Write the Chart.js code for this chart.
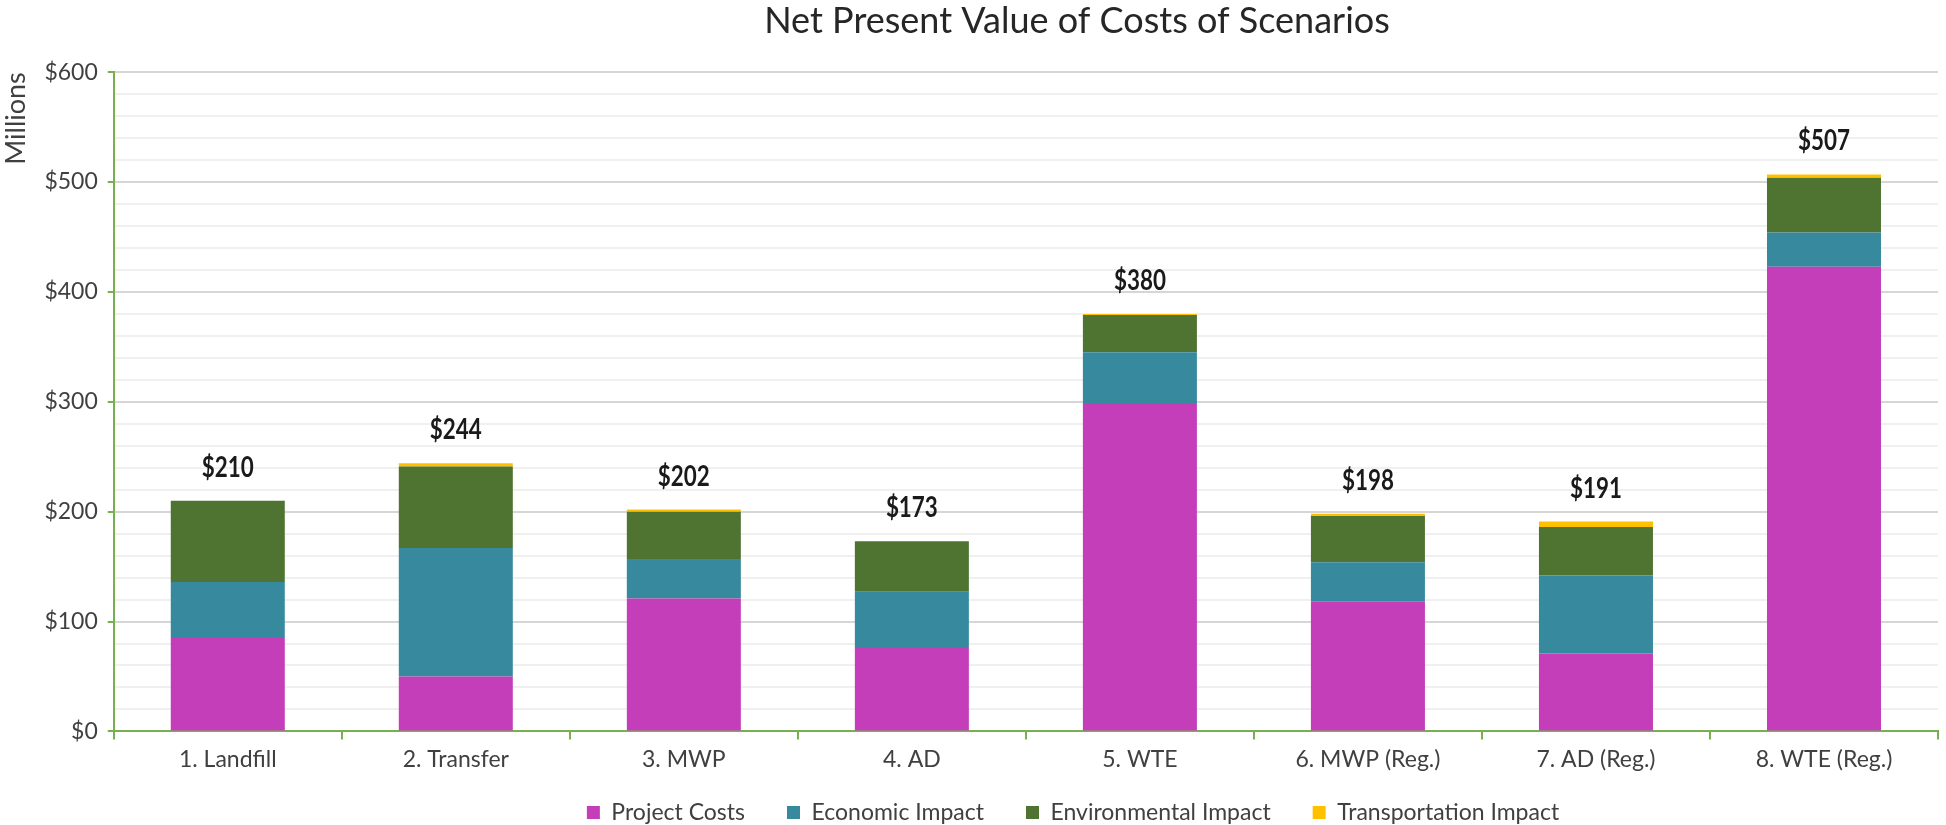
<!DOCTYPE html>
<html>
<head>
<meta charset="utf-8">
<script src="https://cdn.jsdelivr.net/npm/chart.js@4"></script>
<style>
    body { margin: 0; background: #fff; }
    #wrap { width: 1946px; height: 825px; }
</style>
</head>
<body>
<div id="wrap"><canvas id="npv"></canvas></div>
<script>
var scenarios = ['1. Landfill', '2. Transfer', '3. MWP', '4. AD', '5. WTE', '6. MWP (Reg.)', '7. AD (Reg.)', '8. WTE (Reg.)'];
var projectCosts = [85, 50, 121, 76, 299, 118, 71, 423];
var economicImpact = [51, 117, 36, 51, 46, 36, 71, 31];
var environmentalImpact = [74, 74, 43, 46, 34, 42, 44, 50];
var transportationImpact = [0, 3, 2, 0, 1, 2, 5, 3];
var totals = [210, 244, 202, 173, 380, 198, 191, 507];

var green = '#78b04f';
var textColor = '#404040';

// total above each stacked bar, drawn a little condensed
var totalLabels = {
    id: 'totalLabels',
    afterDatasetsDraw: function (chart) {
        var ctx = chart.ctx;
        var top = chart.getDatasetMeta(chart.data.datasets.length - 1);
        ctx.save();
        ctx.font = 'bold 28px Lato, sans-serif';
        ctx.fillStyle = '#1a1a1a';
        ctx.textAlign = 'center';
        ctx.textBaseline = 'middle';
        top.data.forEach(function (bar, i) {
            ctx.save();
            ctx.translate(bar.x, bar.y - 33);
            ctx.scale(0.8, 1);
            ctx.fillText('$' + totals[i], 0, 0);
            ctx.restore();
        });
        ctx.restore();
    }
};

// wide gaps between legend items but a short legend box,
// and title + legend sit right of centre like in the original
var layoutTweaks = {
    id: 'layoutTweaks',
    beforeInit: function (chart) {
        var fit = chart.legend.fit;
        chart.legend.fit = function () {
            fit.bind(chart.legend)();
            this.height = 46;
        };
    },
    afterLayout: function (chart) {
        chart.legend.left += 104;
        chart.legend.right += 104;
        chart.legend.top -= 20;
        chart.titleBlock.left += 108;
        chart.titleBlock.right += 108;
    }
};

window.addEventListener('load', function () {
    var ctx = document.getElementById('npv').getContext('2d');
    new Chart(ctx, {
        type: 'bar',
        data: {
            labels: scenarios,
            datasets: [
                { label: 'Project Costs', data: projectCosts, backgroundColor: '#c43eba' },
                { label: 'Economic Impact', data: economicImpact, backgroundColor: '#378a9e' },
                { label: 'Environmental Impact', data: environmentalImpact, backgroundColor: '#4f7330' },
                { label: 'Transportation Impact', data: transportationImpact, backgroundColor: '#ffc000' }
            ]
        },
        options: {
            responsive: true,
            maintainAspectRatio: false,
            animation: false,
            layout: { padding: { left: 0, right: 8, bottom: 0 } },
            datasets: { bar: { barPercentage: 0.5, categoryPercentage: 1.0 } },
            plugins: {
                title: {
                    display: true,
                    text: 'Net Present Value of Costs of Scenarios',
                    color: '#262626',
                    font: { family: 'Lato', size: 36, weight: 'normal' },
                    padding: { top: 0, bottom: 29 }
                },
                legend: {
                    display: true,
                    position: 'bottom',
                    labels: {
                        color: textColor,
                        font: { family: 'Lato', size: 23 },
                        boxWidth: 13,
                        boxHeight: 13,
                        padding: 42
                    }
                },
                tooltip: { enabled: false }
            },
            scales: {
                x: {
                    stacked: true,
                    border: { color: green, width: 2 },
                    grid: { drawOnChartArea: false, drawTicks: true, tickLength: 8, color: green, lineWidth: 2 },
                    ticks: { color: textColor, font: { family: 'Lato', size: 23 }, padding: 6, maxRotation: 0 }
                },
                y: {
                    stacked: true,
                    min: 0,
                    max: 600,
                    border: { color: green, width: 2 },
                    title: {
                        display: true,
                        text: 'Millions',
                        align: 'end',
                        color: textColor,
                        font: { family: 'Lato', size: 27 },
                        padding: { top: 0, bottom: 2 }
                    },
                    grid: {
                        color: function (c) { return c.tick.value % 100 === 0 ? '#d6d6d6' : '#f0f0f0'; },
                        tickColor: function (c) { return c.tick.value % 100 === 0 ? green : 'rgba(0,0,0,0)'; },
                        lineWidth: 2,
                        tickLength: 6
                    },
                    ticks: {
                        stepSize: 20,
                        maxTicksLimit: 40,
                        autoSkip: false,
                        color: textColor,
                        font: { family: 'Lato', size: 23 },
                        padding: 10,
                        callback: function (v) { return v % 100 === 0 ? '$' + v : ''; }
                    }
                }
            }
        },
        plugins: [totalLabels, layoutTweaks]
    });
});
</script>
</body>
</html>
